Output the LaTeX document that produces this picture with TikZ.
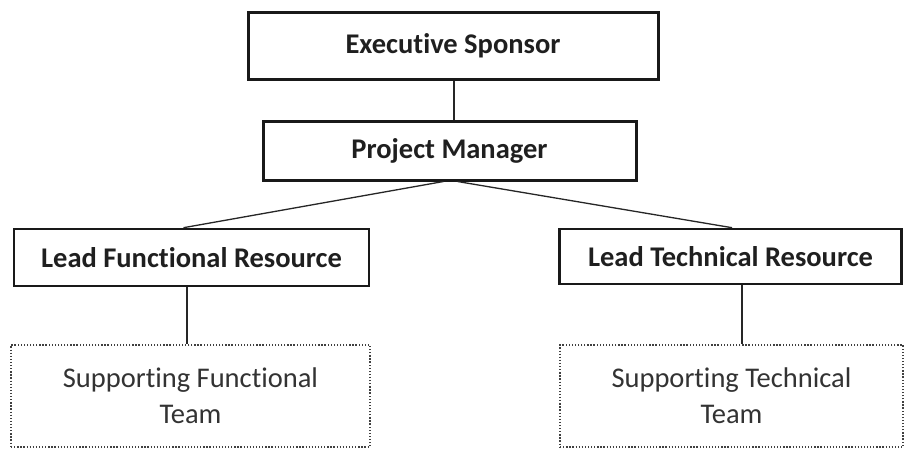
\documentclass[tikz,border=0pt]{standalone}
\usepackage{fontspec}
\setmainfont{Carlito}[Ligatures=NoCommon]
\usetikzlibrary{calc}
\begin{document}
\begin{tikzpicture}[x=1pt,y=-1pt,
  mainbox/.style={draw=black!90,line width=3pt,minimum width=#1,align=center,inner sep=0pt,font=\fontsize{28.5}{34}\selectfont\bfseries,text=black!88},
  leadbox/.style={draw=black!90,line width=2.6pt,minimum width=#1,align=center,inner sep=0pt,font=\fontsize{28.5}{34}\selectfont\bfseries,text=black!88},
  teambox/.style={draw=black!75,line width=1.7pt,dash pattern=on 1.3pt off 1.8pt,minimum width=#1,minimum height=102pt,align=center,inner sep=0pt,font=\fontsize{28.5}{36}\selectfont,text=black!80},
  link/.style={draw=black!85,line width=1.3pt}]
\useasboundingbox (0,0) rectangle (905,455);
\fill[white] (0,0) rectangle (905,455);
\node[mainbox=410pt,minimum height=67pt] (es) at (453,45.5) {Executive Sponsor};
\node[mainbox=373pt,minimum height=59pt] (pm) at (449.5,150.5) {Project Manager};
\node[leadbox=355pt,minimum height=57pt] (lfr) at (191.5,257.5) {Lead Functional Resource};
\node[leadbox=342pt,minimum height=55pt] (ltr) at (730.5,256.5) {Lead Technical Resource};
\node[teambox=359pt] (sft) at (190.5,396) {Supporting Functional\\Team};
\node[teambox=343pt] (stt) at (731.5,396) {Supporting Technical\\Team};
\draw[link] ($(es.south)+(1,0)$) -- ($(pm.north)+(4.5,0)$);
\draw[link] ($(pm.south)+(-6,0)$) -- ($(lfr.north)+(-8,0)$);
\draw[link] ($(pm.south)+(8,0)$) -- ($(ltr.north)+(1.5,0)$);
\draw[link] ($(lfr.south)+(-4.5,0)$) -- ($(sft.north)+(-3.5,0)$);
\draw[link] ($(ltr.south)+(11.5,0)$) -- ($(stt.north)+(10.5,0)$);
\end{tikzpicture}
\end{document}
